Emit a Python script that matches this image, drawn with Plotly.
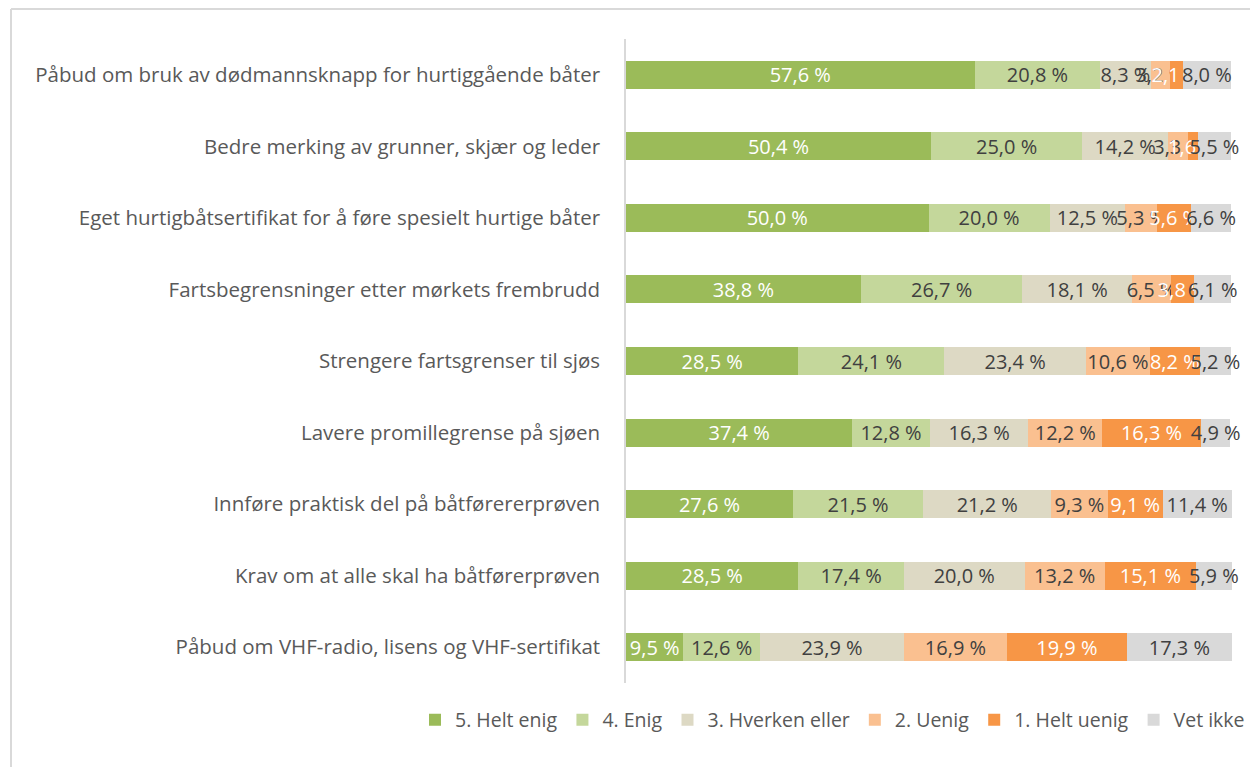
import plotly.graph_objects as go

categories = [
    "Påbud om bruk av dødmannsknapp for hurtiggående båter",
    "Bedre merking av grunner, skjær og leder",
    "Eget hurtigbåtsertifikat for å føre spesielt hurtige båter",
    "Fartsbegrensninger etter mørkets frembrudd",
    "Strengere fartsgrenser til sjøs",
    "Lavere promillegrense på sjøen",
    "Innføre praktisk del på båtførererprøven",
    "Krav om at alle skal ha båtførerprøven",
    "Påbud om VHF-radio, lisens og VHF-sertifikat",
]

series_names = ["5. Helt enig", "4. Enig", "3. Hverken eller", "2. Uenig", "1. Helt uenig", "Vet ikke"]

helt_enig = [57.6, 50.4, 50.0, 38.8, 28.5, 37.4, 27.6, 28.5, 9.5]
enig = [20.8, 25.0, 20.0, 26.7, 24.1, 12.8, 21.5, 17.4, 12.6]
hverken = [8.3, 14.2, 12.5, 18.1, 23.4, 16.3, 21.2, 20.0, 23.9]
uenig = [3.2, 3.3, 5.3, 6.5, 10.6, 12.2, 9.3, 13.2, 16.9]
helt_uenig = [2.1, 1.6, 5.6, 3.8, 8.2, 16.3, 9.1, 15.1, 19.9]
vet_ikke = [8.0, 5.5, 6.6, 6.1, 5.2, 4.9, 11.4, 5.9, 17.3]

series_values = [helt_enig, enig, hverken, uenig, helt_uenig, vet_ikke]
colors = ["#9BBB59", "#C4D79B", "#DDD9C4", "#FAC090", "#F79646", "#D9D9D9"]
text_colors = ["#FFFFFF", "#404040", "#404040", "#404040", "#FFFFFF", "#404040"]

FONT = "'Open Sans', sans-serif"

# page body has an 8px margin; figure is sized/positioned to compensate
W, H = 1250, 759
L, T = 618, 31
R, B = 26, 84
pw, ph = W - L - R, H - T - B

fig = go.Figure()
for name, vals, col, tcol in zip(series_names, series_values, colors, text_colors):
    fig.add_trace(go.Bar(
        y=categories, x=vals, name=name, orientation="h",
        marker=dict(color=col, line=dict(width=0)),
        texttemplate="%{x:.1f} %",
        textposition="inside", insidetextanchor="middle",
        textangle=0, constraintext="none",
        textfont=dict(color=tcol, size=20, family=FONT),
        cliponaxis=False,
    ))

fig.update_layout(
    barmode="stack",
    bargap=0.61,
    separators=", ",
    width=W, height=H,
    paper_bgcolor="white", plot_bgcolor="white",
    margin=dict(l=L, r=R, t=T, b=B, autoexpand=False),
    font=dict(family=FONT, color="#595959", size=20),
    uniformtext=dict(minsize=20, mode="show"),
    legend=dict(orientation="h", x=(415 - 8 - L) / pw, xanchor="left",
                y=(H - B - (720 - 8)) / ph, yanchor="middle",
                font=dict(size=19.5, color="#595959", family=FONT),
                itemwidth=30, tracegroupgap=0, traceorder="normal"),
    xaxis=dict(range=[0, 100.15], showticklabels=False, showgrid=False, zeroline=False,
               showline=False, ticks="", automargin=False),
    yaxis=dict(autorange="reversed", showgrid=False, zeroline=False, showline=True,
               linecolor="#D9D9D9", linewidth=1.5, ticks="", ticklabelstandoff=20,
               automargin=False,
               tickfont=dict(size=20.5, color="#595959", family=FONT)),
    shapes=[
        dict(type="line", xref="paper", yref="paper",
             x0=(3 - L) / pw, x1=(1270 - L) / pw, y0=(H - B - 1) / ph, y1=(H - B - 1) / ph,
             line=dict(color="#D9D9D9", width=2)),
        dict(type="line", xref="paper", yref="paper",
             x0=(3 - L) / pw, x1=(3 - L) / pw, y0=(H - B - 780) / ph, y1=(H - B - 1) / ph,
             line=dict(color="#D9D9D9", width=2)),
    ],
)

fig.write_html("out.html")
